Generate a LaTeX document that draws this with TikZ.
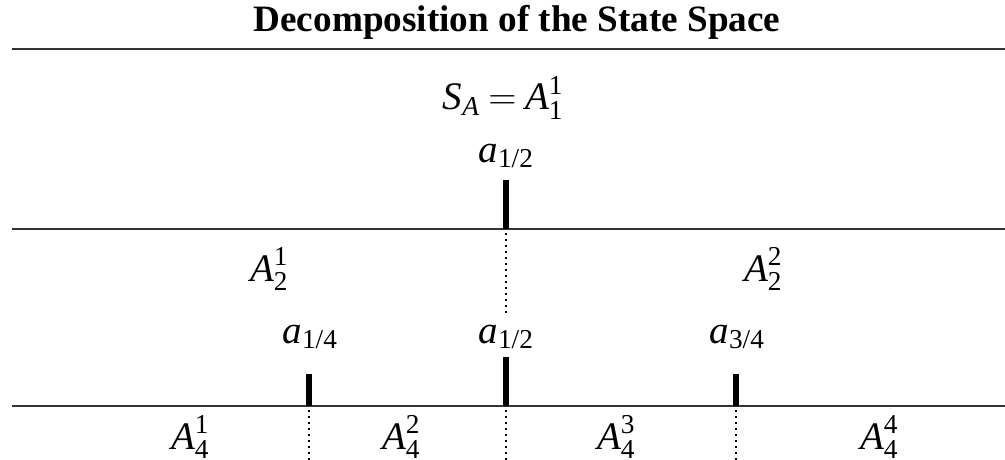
\RequirePackage{fix-cm}
\documentclass[tikz,border=0pt]{standalone}
\usepackage{amsmath}
\usepackage{fontspec}
\setmainfont{Liberation Serif}
\newcommand\vi[1]{\text{\itshape #1}}
\newcommand\vu[1]{\text{\upshape #1}}
\tikzset{
  lvl/.style={draw=black!80, line width=2.8pt},
  tickmark/.style={draw=black, line width=6pt},
  dotline/.style={draw=black, line width=2pt, dash pattern=on 2pt off 4pt},
  lbl/.style={inner sep=0pt, anchor=base, font=\fontsize{39}{42}\selectfont},
}
\begin{document}
\begin{tikzpicture}[x=1pt, y=-1pt]
\useasboundingbox (0,0) rectangle (1005,460);
% title
\node[inner sep=0pt, anchor=base, font=\fontsize{37.2}{40}\selectfont\bfseries] (title) at (517,32) {Decomposition of the State Space};
% level lines
\coordinate (l1a) at (12,49);  \coordinate (l1b) at (1005,49);
\coordinate (l2a) at (12,229); \coordinate (l2b) at (1005,229);
\coordinate (l3a) at (12,406); \coordinate (l3b) at (1005,406);
\draw[lvl] (l1a) -- (l1b);
\draw[lvl] (l2a) -- (l2b);
\draw[lvl] (l3a) -- (l3b);
% level 1
\node[lbl] (sa) at (503,110) {$\vi{S}_{\vi{A}} \mathrel{\mkern-1mu=\mkern-1mu} \vi{A}^{\vu{1}}_{\vu{1}}$};
\node[lbl] (a12t) at (506,162) {$\vi{a}_{\vu{1/2}}$};
\coordinate (t1top) at (506,180); \coordinate (t1bot) at (506,229);
\draw[tickmark] (t1top) -- (t1bot);
\coordinate (d1a) at (506,233); \coordinate (d1b) at (506,316);
\draw[dotline] (d1a) -- (d1b);
% level 2
\node[lbl] (A21) at (269,281) {$\vi{A}^{\vu{1}}_{\vu{2}}$};
\node[lbl] (A22) at (763,281) {$\vi{A}^{\vu{2}}_{\vu{2}}$};
\node[lbl] (a14) at (310,343) {$\vi{a}_{\vu{1/4}}$};
\node[lbl] (a12) at (506,343) {$\vi{a}_{\vu{1/2}}$};
\node[lbl] (a34) at (737,343) {$\vi{a}_{\vu{3/4}}$};
\coordinate (t2top) at (309,374); \coordinate (t2bot) at (309,406);
\coordinate (t3top) at (506,357); \coordinate (t3bot) at (506,406);
\coordinate (t4top) at (736,374); \coordinate (t4bot) at (736,406);
\draw[tickmark] (t2top) -- (t2bot);
\draw[tickmark] (t3top) -- (t3bot);
\draw[tickmark] (t4top) -- (t4bot);
% level 4
\coordinate (d2a) at (309,410); \coordinate (d2b) at (309,460);
\coordinate (d3a) at (506,410); \coordinate (d3b) at (506,460);
\coordinate (d4a) at (736,410); \coordinate (d4b) at (736,460);
\draw[dotline] (d2a) -- (d2b);
\draw[dotline] (d3a) -- (d3b);
\draw[dotline] (d4a) -- (d4b);
\node[lbl] (A41) at (190,449) {$\vi{A}^{\vu{1}}_{\vu{4}}$};
\node[lbl] (A42) at (401,449) {$\vi{A}^{\vu{2}}_{\vu{4}}$};
\node[lbl] (A43) at (616,449) {$\vi{A}^{\vu{3}}_{\vu{4}}$};
\node[lbl] (A44) at (879,449) {$\vi{A}^{\vu{4}}_{\vu{4}}$};
\end{tikzpicture}
\end{document}
